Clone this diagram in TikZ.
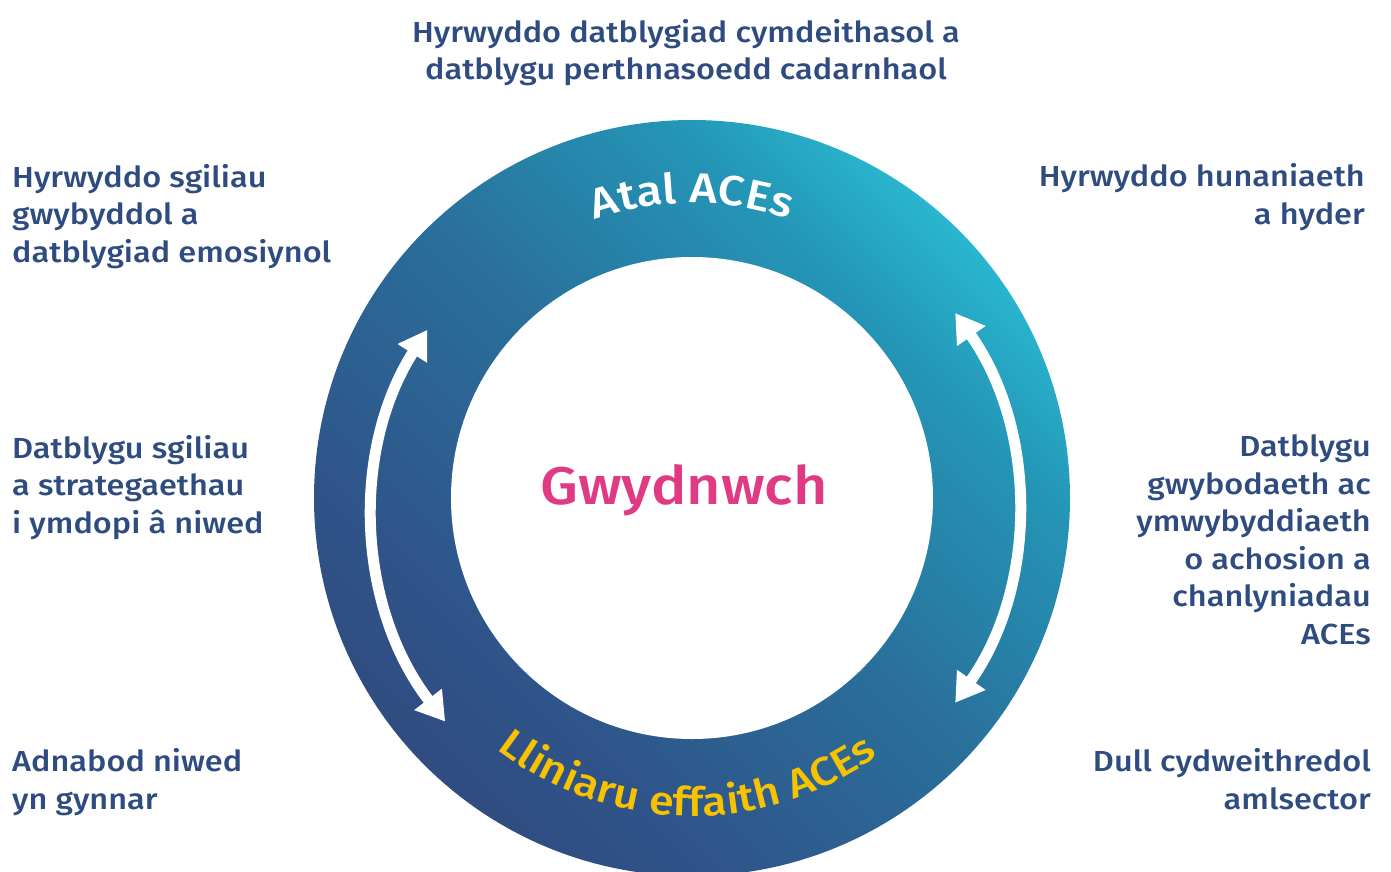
\documentclass[tikz,border=0pt]{standalone}
\usepackage{fontspec}
\setmainfont{Fira Sans}[UprightFont={* Medium}, FakeStretch=1.12]
\usetikzlibrary{arrows.meta,decorations.text}
\definecolor{navyc}{HTML}{304C80}
\definecolor{navyb}{HTML}{2F548A}
\definecolor{midc}{HTML}{2A6E9A}
\definecolor{tealc}{HTML}{2495B6}
\definecolor{cyanc}{HTML}{29B6CE}
\definecolor{textblue}{HTML}{2E4C80}
\definecolor{pinkc}{HTML}{E03A84}
\definecolor{yellowc}{HTML}{F7C200}
\pgfdeclareverticalshading{ringshade}{100bp}{color(0bp)=(navyc); color(25bp)=(navyc); color(33.5bp)=(navyb); color(50bp)=(midc); color(66.7bp)=(tealc); color(75bp)=(cyanc); color(100bp)=(cyanc)}
\begin{document}
\begin{tikzpicture}[x=1pt,y=1pt,
  lbl/.style={font=\fontsize{29}{37.5}\selectfont, text=textblue, inner sep=0pt},
  twoway/.style={draw=white, line width=11pt, {Triangle[length=28pt,width=33pt]}-{Triangle[length=28pt,width=33pt]}}]
\useasboundingbox (-692,-373) rectangle (699,498);
% ring
\shade[shading=ringshade, shading angle=-45] (0,0) circle[radius=378pt];
\fill[white] (0,0) circle[radius=241pt];
% arrows
\draw[twoway] (-264.6,168.2) arc[start angle=147.5, end angle=217.7, radius=341pt];
\draw[twoway] (263.2,184.9) arc[start angle=35.2, end angle=-35.2, radius=338pt];
% curved labels
\path[decorate, decoration={text along path, text align=center,
  text={|\fontsize{42}{42}\selectfont\color{white}|Atal ACEs}}]
  (150:295pt) arc[start angle=150, end angle=30, radius=295pt];
\path[decorate, decoration={text along path, text align=center,
  text={|\fontsize{40}{40}\selectfont\color{yellowc}|Lliniaru effaith ACEs}}]
  (209:318pt) arc[start angle=209, end angle=329, radius=318pt];
% centre
\node[font=\fontsize{53}{53}\selectfont, text=pinkc, inner sep=0pt, anchor=base] (core) at (-8,-6) {Gwydnwch};
% outer labels (anchored at the baseline of their last line)
\node[lbl, anchor=base, align=center] (tc) at (-6,418) {Hyrwyddo datblygiad cymdeithasol a\\datblygu perthnasoedd cadarnhaol};
\node[lbl, anchor=base west, align=left] (tl) at (-680,236) {Hyrwyddo sgiliau\\gwybyddol a\\datblygiad emosiynol};
\node[lbl, anchor=base east, align=right] (tr) at (673,274) {Hyrwyddo hunaniaeth\\a hyder};
\node[lbl, anchor=base west, align=left] (ml) at (-680,-35) {Datblygu sgiliau\\a strategaethau\\i ymdopi â niwed};
\node[lbl, anchor=base east, align=right] (mr) at (679,-146) {Datblygu\\gwybodaeth ac\\ymwybyddiaeth\\o achosion a\\chanlyniadau\\ACEs};
\node[lbl, anchor=base west, align=left] (bl) at (-680,-311) {Adnabod niwed\\yn gynnar};
\node[lbl, anchor=base east, align=right] (br) at (679,-311) {Dull cydweithredol\\amlsector};
\end{tikzpicture}
\end{document}
